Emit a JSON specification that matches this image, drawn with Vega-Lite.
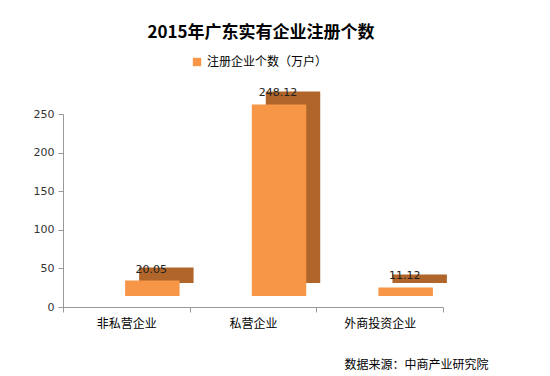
{
  "$schema": "https://vega.github.io/schema/vega-lite/v6.json",
  "width": 380,
  "height": 193,
  "autosize": "none",
  "padding": {"left": 63, "top": 114, "right": 107, "bottom": 69},
  "background": "white",
  "title": {
    "text": "2015年广东实有企业注册个数",
    "font": "Noto Sans CJK SC",
    "fontSize": 17,
    "fontWeight": "bold",
    "color": "#000000",
    "anchor": "middle",
    "offset": 14,
    "dx": 8
  },
  "config": {
    "view": {"stroke": null},
    "font": "Noto Sans CJK SC"
  },
  "data": {
    "values": [
      {"类别": "非私营企业", "数量": 20.05, "系列": "注册企业个数（万户）"},
      {"类别": "私营企业", "数量": 248.12, "系列": "注册企业个数（万户）"},
      {"类别": "外商投资企业", "数量": 11.12, "系列": "注册企业个数（万户）"}
    ]
  },
  "encoding": {
    "x": {
      "field": "类别",
      "type": "nominal",
      "sort": null,
      "scale": {"paddingInner": 0, "paddingOuter": 0},
      "axis": {
        "labelAngle": 0,
        "labelFontSize": 12,
        "labelColor": "#000000",
        "labelPadding": 6,
        "tickBand": "extent",
        "domainColor": "#999999",
        "tickColor": "#999999",
        "tickSize": 5,
        "title": "数据来源：中商产业研究院",
        "titleFontSize": 12,
        "titleFontWeight": "normal",
        "titleColor": "#000000",
        "titleAlign": "right",
        "titleX": 425,
        "titleY": 52
      }
    },
    "y": {
      "field": "数量",
      "type": "quantitative",
      "scale": {"domain": [0, 250]},
      "axis": {
        "values": [0, 50, 100, 150, 200, 250],
        "grid": false,
        "title": null,
        "labelFontSize": 11,
        "labelColor": "#333333",
        "labelFont": "DejaVu Sans",
        "domainColor": "#999999",
        "tickColor": "#999999",
        "tickSize": 5,
        "labelPadding": 4
      }
    }
  },
  "layer": [
    {
      "mark": {"type": "bar", "width": {"band": 0.43}, "xOffset": 40, "yOffset": -24, "color": "#B0652A"},
      "encoding": {}
    },
    {
      "mark": {"type": "bar", "width": {"band": 0.43}, "xOffset": 26, "yOffset": -11},
      "encoding": {
        "color": {
          "field": "系列",
          "type": "nominal",
          "scale": {"range": ["#F79646"]},
          "legend": {
            "title": null,
            "orient": "none",
            "legendX": 128,
            "legendY": -58,
            "symbolType": "square",
            "symbolSize": 70,
            "labelFontSize": 12,
            "labelColor": "#000000",
            "labelFont": "Noto Sans CJK SC"
          }
        }
      }
    },
    {
      "mark": {"type": "text", "dx": 25, "dy": -19, "baseline": "alphabetic", "fontSize": 11, "font": "DejaVu Sans", "color": "#222222"},
      "encoding": {
        "text": {"field": "数量", "type": "quantitative", "format": ".2f"}
      }
    }
  ]
}
